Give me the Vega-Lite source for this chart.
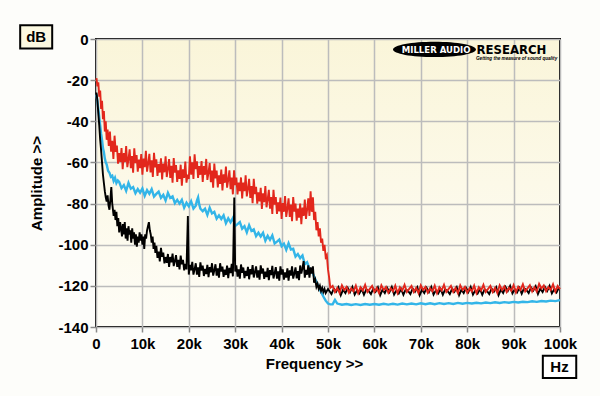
{
  "$schema": "https://vega.github.io/schema/vega-lite/v6.json",
  "width": 464,
  "height": 288,
  "autosize": {"type": "none"},
  "padding": {"left": 96, "top": 39, "right": 40, "bottom": 69},
  "background": "#fdfdfa",
  "config": {
    "view": {
      "stroke": "#000000",
      "strokeWidth": 2,
      "fill": {"gradient": "linear", "x1": 0, "y1": 0, "x2": 0, "y2": 1, "stops": [{"offset": 0, "color": "#faf5d9"}, {"offset": 1, "color": "#fefdf7"}]}
    },
    "axis": {
      "domain": false,
      "grid": true,
      "gridColor": "#bcbcbc",
      "gridWidth": 1.5,
      "tickColor": "#8a8a8a",
      "tickWidth": 1.5,
      "tickSize": 5,
      "labelFlush": false,
      "labelOverlap": false,
      "labelFont": "Liberation Sans",
      "labelFontWeight": "bold",
      "labelFontSize": 15,
      "labelColor": "#000000",
      "titleFont": "Liberation Sans",
      "titleFontWeight": "bold",
      "titleFontSize": 15,
      "titleColor": "#000000"
    }
  },
  "datasets": {
    "red": [
      {"f":0.1,"v":-19},{"f":0.3,"v":-23},{"f":0.5,"v":-21},{"f":0.7,"v":-28},{"f":0.9,"v":-25},{"f":1.1,"v":-34},{"f":1.3,"v":-30},{"f":1.5,"v":-39},{"f":1.7,"v":-35},{"f":1.9,"v":-45},{"f":2.1,"v":-40},{"f":2.3,"v":-49},{"f":2.5,"v":-44},{"f":2.75,"v":-52},
      {"f":3.0,"v":-45},{"f":3.25,"v":-54.8},{"f":3.5,"v":-49.5},{"f":3.75,"v":-58.3},{"f":4.0,"v":-47},{"f":4.25,"v":-54.9},{"f":4.5,"v":-51.8},{"f":4.75,"v":-60.6},{"f":5.0,"v":-55.5},{"f":5.25,"v":-59.8},{"f":5.5,"v":-53},{"f":5.75,"v":-63.3},{"f":6.0,"v":-55.5},{"f":6.25,"v":-59.8},{"f":6.5,"v":-52},{"f":6.75,"v":-62.3},{"f":7.0,"v":-58.5},
      {"f":7.25,"v":-53.6},{"f":7.5,"v":-62.8},{"f":7.75,"v":-56.9},{"f":8.0,"v":-65},{"f":8.25,"v":-53.1},{"f":8.5,"v":-60.3},{"f":8.75,"v":-56.4},{"f":9.0,"v":-64.5},{"f":9.25,"v":-58.6},{"f":9.5,"v":-62.8},{"f":9.75,"v":-55.9},{"f":10.0,"v":-66},{"f":10.25,"v":-58.1},{"f":10.5,"v":-62.3},{"f":10.75,"v":-54.4},{"f":11.0,"v":-64.5},{"f":11.25,"v":-60.6},
      {"f":11.5,"v":-55.8},{"f":11.75,"v":-64.9},{"f":12.0,"v":-59},{"f":12.25,"v":-67.1},{"f":12.5,"v":-55.3},{"f":12.75,"v":-62.4},{"f":13.0,"v":-58.5},{"f":13.25,"v":-66.6},{"f":13.5,"v":-60.8},{"f":13.75,"v":-64.9},{"f":14.0,"v":-58},{"f":14.25,"v":-68.3},{"f":14.5,"v":-60.5},{"f":14.75,"v":-64.8},{"f":15.0,"v":-57},{"f":15.25,"v":-67.1},{"f":15.5,"v":-63.3},
      {"f":15.75,"v":-58.4},{"f":16.0,"v":-67.5},{"f":16.25,"v":-61.6},{"f":16.5,"v":-69.8},{"f":16.75,"v":-57.9},{"f":17.0,"v":-65},{"f":17.25,"v":-61.3},{"f":17.5,"v":-69.5},{"f":17.75,"v":-63.8},{"f":18.0,"v":-68},{"f":18.25,"v":-61.1},{"f":18.5,"v":-71.3},{"f":18.75,"v":-63.4},{"f":19.0,"v":-67.5},{"f":19.25,"v":-59.6},{"f":19.5,"v":-69.8},{"f":19.75,"v":-65.9},{"f":20.0,"v":-68},
      {"f":20.25,"v":-57},{"f":20.5,"v":-66},{"f":20.75,"v":-60},{"f":21.0,"v":-68},{"f":21.25,"v":-56.1},{"f":21.5,"v":-63.3},{"f":21.75,"v":-59.4},{"f":22.0,"v":-67.5},{"f":22.25,"v":-61.8},{"f":22.5,"v":-66},{"f":22.75,"v":-59.3},{"f":23.0,"v":-69.5},{"f":23.25,"v":-61.8},{"f":23.5,"v":-66},{"f":23.75,"v":-58.3},{"f":24.0,"v":-68.5},{"f":24.25,"v":-64.9},
      {"f":24.5,"v":-60.3},{"f":24.75,"v":-69.6},{"f":25.0,"v":-64},{"f":25.25,"v":-72.3},{"f":25.5,"v":-60.5},{"f":25.75,"v":-67.8},{"f":26.0,"v":-64},{"f":26.25,"v":-72.1},{"f":26.5,"v":-66.3},{"f":26.75,"v":-70.4},{"f":27.0,"v":-63.5},{"f":27.25,"v":-73.6},{"f":27.5,"v":-65.8},{"f":27.75,"v":-69.9},{"f":28.0,"v":-62},{"f":28.25,"v":-72.3},{"f":28.5,"v":-68.5},
      {"f":28.75,"v":-63.8},{"f":29.0,"v":-73},{"f":29.25,"v":-67.3},{"f":29.5,"v":-75.5},{"f":29.75,"v":-63.8},{"f":30.0,"v":-71},{"f":30.25,"v":-67.3},{"f":30.5,"v":-75.5},{"f":30.75,"v":-69.8},{"f":31.0,"v":-74},{"f":31.25,"v":-67.3},{"f":31.5,"v":-77.5},{"f":31.75,"v":-69.8},{"f":32.0,"v":-74},{"f":32.25,"v":-66.3},{"f":32.5,"v":-76.5},{"f":32.75,"v":-72.8},
      {"f":33.0,"v":-68},{"f":33.25,"v":-77.3},{"f":33.5,"v":-71.5},{"f":33.75,"v":-79.8},{"f":34.0,"v":-68},{"f":34.25,"v":-75.4},{"f":34.5,"v":-71.8},{"f":34.75,"v":-80.1},{"f":35.0,"v":-74.5},{"f":35.25,"v":-78.9},{"f":35.5,"v":-72.3},{"f":35.75,"v":-82.6},{"f":36.0,"v":-75},{"f":36.25,"v":-79.3},{"f":36.5,"v":-71.5},{"f":36.75,"v":-81.8},{"f":37.0,"v":-78},
      {"f":37.25,"v":-73.3},{"f":37.5,"v":-82.5},{"f":37.75,"v":-76.8},{"f":38.0,"v":-85},{"f":38.25,"v":-73.3},{"f":38.5,"v":-80.5},{"f":38.75,"v":-76.8},{"f":39.0,"v":-85},{"f":39.25,"v":-79.4},{"f":39.5,"v":-83.8},{"f":39.75,"v":-77.1},{"f":40.0,"v":-87.5},{"f":40.25,"v":-79.8},{"f":40.5,"v":-84},{"f":40.75,"v":-76.3},{"f":41.0,"v":-86.5},{"f":41.25,"v":-82.5},
      {"f":41.5,"v":-77.5},{"f":41.75,"v":-86.5},{"f":42.0,"v":-80.5},{"f":42.25,"v":-88.6},{"f":42.5,"v":-76.8},{"f":42.75,"v":-83.9},{"f":43.0,"v":-80},{"f":43.25,"v":-88.3},{"f":43.5,"v":-82.5},{"f":43.75,"v":-86.8},{"f":44.0,"v":-80},{"f":44.25,"v":-90},{"f":44.5,"v":-82},{"f":44.75,"v":-86},{"f":45.0,"v":-78},{"f":45.25,"v":-87.5},{"f":45.5,"v":-83},
      {"f":45.75,"v":-77.5},{"f":46.0,"v":-86},{"f":46.25,"v":-74},{"f":46.5,"v":-84},{"f":46.75,"v":-77},{"f":47.0,"v":-88},{"f":47.25,"v":-84},{"f":47.5,"v":-93},{"f":47.75,"v":-89},{"f":48.0,"v":-96},{"f":48.25,"v":-92},{"f":48.5,"v":-99},{"f":48.75,"v":-97},{"f":49.0,"v":-103},{"f":49.25,"v":-100},{"f":49.5,"v":-106},{"f":49.75,"v":-105},{"f":50.0,"v":-112},{"f":50.25,"v":-116},{"f":50.5,"v":-121},
      {"f":51.0,"v":-120},{"f":51.5,"v":-123},{"f":52,"v":-121},{"f":52.5,"v":-123.5},{"f":53,"v":-119.7},{"f":53.5,"v":-122},{"f":54,"v":-120.5},{"f":54.5,"v":-123.3},{"f":55,"v":-121.2},{"f":55.5,"v":-122.7},{"f":56,"v":-119.9},{"f":56.5,"v":-123.5},{"f":57,"v":-120.7},{"f":57.5,"v":-122.3},{"f":58,"v":-119.5},{"f":58.5,"v":-123},{"f":59,"v":-121.5},
      {"f":59.5,"v":-120},{"f":60,"v":-123},{"f":60.5,"v":-121},{"f":61,"v":-123.5},{"f":61.5,"v":-119.7},{"f":62,"v":-122},{"f":62.5,"v":-120.5},{"f":63,"v":-123.3},{"f":63.5,"v":-121.2},{"f":64,"v":-122.7},{"f":64.5,"v":-119.9},{"f":65,"v":-123.5},{"f":65.5,"v":-120.7},{"f":66,"v":-122.3},{"f":66.5,"v":-119.5},{"f":67,"v":-123},{"f":67.5,"v":-121.5},
      {"f":68,"v":-120},{"f":68.5,"v":-123},{"f":69,"v":-121},{"f":69.5,"v":-123.5},{"f":70,"v":-119.7},{"f":70.5,"v":-122},{"f":71,"v":-120.5},{"f":71.5,"v":-123.3},{"f":72,"v":-121.2},{"f":72.5,"v":-122.7},{"f":73,"v":-119.9},{"f":73.5,"v":-123.5},{"f":74,"v":-120.7},{"f":74.5,"v":-122.3},{"f":75,"v":-119.5},{"f":75.5,"v":-123},{"f":76,"v":-121.5},
      {"f":76.5,"v":-120},{"f":77,"v":-123},{"f":77.5,"v":-121},{"f":78,"v":-123.5},{"f":78.5,"v":-119.7},{"f":79,"v":-122},{"f":79.5,"v":-120.5},{"f":80,"v":-123.3},{"f":80.5,"v":-121.2},{"f":81,"v":-122.7},{"f":81.5,"v":-119.9},{"f":82,"v":-123.5},{"f":82.5,"v":-120.7},{"f":83,"v":-122.3},{"f":83.5,"v":-119.5},{"f":84,"v":-123},{"f":84.5,"v":-121.5},
      {"f":85,"v":-120},{"f":85.5,"v":-123},{"f":86,"v":-121},{"f":86.5,"v":-123.5},{"f":87,"v":-119.7},{"f":87.5,"v":-122},{"f":88,"v":-120.2},{"f":88.5,"v":-123},{"f":89,"v":-120.9},{"f":89.5,"v":-122.4},{"f":90,"v":-119.6},{"f":90.5,"v":-123.2},{"f":91,"v":-120.4},{"f":91.5,"v":-122},{"f":92,"v":-119.2},{"f":92.5,"v":-122.7},{"f":93,"v":-121.2},
      {"f":93.5,"v":-119.7},{"f":94,"v":-122.7},{"f":94.5,"v":-120.7},{"f":95,"v":-122.8},{"f":95.5,"v":-119},{"f":96,"v":-121.3},{"f":96.5,"v":-119.8},{"f":97,"v":-122.6},{"f":97.5,"v":-120.5},{"f":98,"v":-122},{"f":98.5,"v":-119.2},{"f":99,"v":-122.8},{"f":99.5,"v":-120},{"f":100,"v":-121.6}
    ],
    "blue": [
      {"f":0.1,"v":-27},{"f":0.3,"v":-30},{"f":0.5,"v":-34},{"f":0.7,"v":-38},{"f":0.9,"v":-42},{"f":1.1,"v":-46},{"f":1.3,"v":-49},{"f":1.5,"v":-53},{"f":1.7,"v":-55},{"f":1.9,"v":-58},{"f":2.1,"v":-60},{"f":2.3,"v":-61},{"f":2.6,"v":-64},{"f":2.9,"v":-65},{"f":3.2,"v":-67},{"f":3.5,"v":-66.5},{"f":3.8,"v":-69},{"f":4.1,"v":-67.5},{"f":4.4,"v":-70},{"f":4.7,"v":-68.8},
      {"f":5.0,"v":-69.5},{"f":5.5,"v":-72.5},{"f":6.0,"v":-71},{"f":6.5,"v":-73.8},{"f":7.0,"v":-70},{"f":7.5,"v":-72.8},{"f":8.0,"v":-72},{"f":8.5,"v":-75},{"f":9.0,"v":-73},{"f":9.5,"v":-74.7},{"f":10.0,"v":-72.7},{"f":10.5,"v":-76.2},{"f":11.0,"v":-73.5},{"f":11.5,"v":-75.3},{"f":12.0,"v":-73},{"f":12.5,"v":-76.6},{"f":13.0,"v":-75.3},
      {"f":13.5,"v":-74.2},{"f":14.0,"v":-77.2},{"f":14.5,"v":-75.8},{"f":15.0,"v":-78.5},{"f":15.5,"v":-74.8},{"f":16.0,"v":-77.3},{"f":16.5,"v":-76.5},{"f":17.0,"v":-79.8},{"f":17.5,"v":-78.2},{"f":18.0,"v":-80},{"f":18.5,"v":-78.2},{"f":19.0,"v":-82},{"f":19.5,"v":-79.6},{"f":20.0,"v":-81.3},{"f":20.5,"v":-78.9},{"f":21.0,"v":-82.4},{"f":21.5,"v":-81},
      {"f":21.75,"v":-78.5},{"f":22.0,"v":-77},{"f":22.25,"v":-80.5},{"f":22.5,"v":-82.5},{"f":23.0,"v":-83.7},{"f":23.5,"v":-82.5},{"f":24.0,"v":-85.5},{"f":24.5,"v":-82},{"f":25.0,"v":-84.8},{"f":25.5,"v":-84},{"f":26.0,"v":-87.3},{"f":26.5,"v":-85.7},{"f":27.0,"v":-87.5},{"f":27.5,"v":-85.7},{"f":28.0,"v":-89.5},{"f":28.5,"v":-87.2},{"f":29.0,"v":-89.1},{"f":29.5,"v":-87},{"f":30.0,"v":-90.9},
      {"f":30.5,"v":-90},{"f":31.0,"v":-89},{"f":31.5,"v":-92.2},{"f":32.0,"v":-91},{"f":32.5,"v":-94},{"f":33.0,"v":-90.5},{"f":33.5,"v":-93.3},{"f":34.0,"v":-92.5},{"f":34.5,"v":-95.8},{"f":35.0,"v":-94.2},{"f":35.5,"v":-96},{"f":36.0,"v":-94.2},{"f":36.5,"v":-98},{"f":37.0,"v":-95.7},{"f":37.5,"v":-97.6},{"f":38.0,"v":-95.5},{"f":38.5,"v":-99.4},{"f":39.0,"v":-98.5},
      {"f":39.5,"v":-97.5},{"f":40.0,"v":-100.7},{"f":40.5,"v":-99.5},{"f":41.0,"v":-102.5},{"f":41.5,"v":-99.3},{"f":42.0,"v":-102.3},{"f":42.5,"v":-102},{"f":43.0,"v":-105.8},{"f":43.5,"v":-104.5},{"f":44.0,"v":-106.5},{"f":44.5,"v":-105.2},{"f":45.0,"v":-109.5},{"f":45.5,"v":-108.5},{"f":46.0,"v":-111.6},{"f":46.5,"v":-112.5},{"f":47.0,"v":-115.5},{"f":47.5,"v":-118},{"f":48.0,"v":-120.5},{"f":48.5,"v":-123},{"f":49.0,"v":-125.2},{"f":49.5,"v":-127.2},{"f":50.0,"v":-128.6},{"f":50.5,"v":-129},{"f":51.0,"v":-129},{"f":51.5,"v":-126.8},{"f":52.0,"v":-128.6},
      {"f":53,"v":-129.2},{"f":54,"v":-128.8},{"f":55,"v":-129.3},{"f":56,"v":-128.9},{"f":57,"v":-129.3},{"f":58,"v":-128.8},{"f":59,"v":-129.2},{"f":60,"v":-128.8},{"f":61,"v":-129.2},{"f":62,"v":-128.7},{"f":63,"v":-129.1},{"f":64,"v":-128.7},{"f":65,"v":-129.1},{"f":66,"v":-128.6},{"f":67,"v":-129},{"f":68,"v":-128.6},{"f":69,"v":-129},{"f":70,"v":-128.5},{"f":71,"v":-128.9},{"f":72,"v":-128.5},{"f":73,"v":-128.9},{"f":74,"v":-128.4},{"f":75,"v":-128.8},{"f":76,"v":-128.4},{"f":77,"v":-128.8},{"f":78,"v":-128.3},{"f":79,"v":-128.7},{"f":80,"v":-128.3},{"f":81,"v":-128.6},{"f":82,"v":-128.2},{"f":83,"v":-128.5},{"f":84,"v":-128.1},{"f":85,"v":-128.4},{"f":86,"v":-128},{"f":87,"v":-128.3},{"f":88,"v":-127.9},{"f":89,"v":-128.2},{"f":90,"v":-127.8},{"f":91,"v":-128.1},{"f":92,"v":-127.7},{"f":93,"v":-127.9},{"f":94,"v":-127.5},{"f":95,"v":-127.8},{"f":96,"v":-127.4},{"f":97,"v":-127.6},{"f":98,"v":-127.2},{"f":99,"v":-127.4},{"f":100,"v":-126.9}
    ],
    "black": [
      {"f":0.1,"v":-26},{"f":0.3,"v":-30},{"f":0.5,"v":-36},{"f":0.7,"v":-42},{"f":0.9,"v":-49},{"f":1.1,"v":-54},{"f":1.3,"v":-60},{"f":1.5,"v":-66},{"f":1.7,"v":-70},{"f":1.9,"v":-74},{"f":2.1,"v":-77},{"f":2.3,"v":-79},{"f":2.5,"v":-76},{"f":2.7,"v":-81},{"f":2.9,"v":-83},{"f":3.1,"v":-78},{"f":3.3,"v":-72},{"f":3.5,"v":-80},{"f":3.8,"v":-86},
      {"f":4.0,"v":-83},{"f":4.2,"v":-88},{"f":4.4,"v":-84},{"f":4.6,"v":-91},{"f":4.8,"v":-87},{"f":5.0,"v":-94},{"f":5.2,"v":-89},{"f":5.4,"v":-92},{"f":5.6,"v":-96},{"f":5.8,"v":-90},{"f":6.0,"v":-95},{"f":6.2,"v":-89},{"f":6.4,"v":-97},{"f":6.6,"v":-92},{"f":6.8,"v":-98},{"f":7.0,"v":-91},{"f":7.2,"v":-95},{"f":7.4,"v":-93},{"f":7.6,"v":-99},{"f":7.8,"v":-92},{"f":8.0,"v":-97},{"f":8.2,"v":-94},{"f":8.4,"v":-100},{"f":8.6,"v":-95},{"f":8.8,"v":-101},{"f":9.0,"v":-96},{"f":9.2,"v":-99},{"f":9.4,"v":-94},{"f":9.6,"v":-98},{"f":9.8,"v":-95},{"f":10.0,"v":-100},{"f":10.2,"v":-96},{"f":10.4,"v":-102},{"f":10.6,"v":-95},{"f":10.8,"v":-97},{"f":11.0,"v":-93},{"f":11.2,"v":-91},{"f":11.4,"v":-89},{"f":11.6,"v":-93},{"f":11.8,"v":-95},{"f":12.0,"v":-99},{"f":12.2,"v":-96},{"f":12.4,"v":-102},{"f":12.6,"v":-99},{"f":12.8,"v":-104},
      {"f":13.0,"v":-100.5},{"f":13.25,"v":-106.4},{"f":13.5,"v":-103.3},{"f":13.75,"v":-108.1},{"f":14.0,"v":-101.5},{"f":14.25,"v":-105.9},{"f":14.5,"v":-103.8},{"f":14.75,"v":-109.1},{"f":15.0,"v":-106},{"f":15.25,"v":-108.8},{"f":15.5,"v":-104.5},{"f":15.75,"v":-110.8},{"f":16.0,"v":-106},{"f":16.25,"v":-108.6},{"f":16.5,"v":-104.3},{"f":16.75,"v":-110.4},{"f":17.0,"v":-108},
      {"f":17.25,"v":-105.1},{"f":17.5,"v":-110.8},{"f":17.75,"v":-107.4},{"f":18.0,"v":-112},{"f":18.25,"v":-105.3},{"f":18.5,"v":-109.5},{"f":18.75,"v":-107.3},{"f":19.0,"v":-112.5},{"f":19.25,"v":-109.3},{"f":19.5,"v":-112},{"f":19.8,"v":-86},{"f":20.0,"v":-114.5},{"f":20.25,"v":-109.8},{"f":20.5,"v":-112.5},{"f":20.75,"v":-108.3},{"f":21.0,"v":-114.5},{"f":21.25,"v":-112},
      {"f":21.5,"v":-109},{"f":21.75,"v":-114.5},{"f":22.0,"v":-111},{"f":22.25,"v":-115.6},{"f":22.5,"v":-108.6},{"f":22.75,"v":-112.6},{"f":23.0,"v":-110.2},{"f":23.25,"v":-115.2},{"f":23.5,"v":-111.7},{"f":23.75,"v":-114.3},{"f":24.0,"v":-109.8},{"f":24.25,"v":-115.8},{"f":24.5,"v":-110.9},{"f":24.75,"v":-113.4},{"f":25.0,"v":-109},{"f":25.25,"v":-115},{"f":25.5,"v":-112.5},
      {"f":25.75,"v":-109.5},{"f":26.0,"v":-115},{"f":26.25,"v":-111.5},{"f":26.5,"v":-116},{"f":26.75,"v":-109},{"f":27.0,"v":-113},{"f":27.25,"v":-110.6},{"f":27.5,"v":-115.6},{"f":27.75,"v":-112.1},{"f":28.0,"v":-114.7},{"f":28.25,"v":-110.2},{"f":28.5,"v":-116.2},{"f":28.75,"v":-111.3},{"f":29.0,"v":-113.8},{"f":29.25,"v":-109.3},{"f":29.5,"v":-115.4},{"f":29.8,"v":-77},
      {"f":30.0,"v":-113},{"f":30.25,"v":-110},{"f":30.5,"v":-115.5},{"f":30.75,"v":-112},{"f":31.0,"v":-116.5},{"f":31.25,"v":-109.6},{"f":31.5,"v":-113.6},{"f":31.75,"v":-111.1},{"f":32.0,"v":-116.2},{"f":32.25,"v":-112.7},{"f":32.5,"v":-115.2},{"f":32.75,"v":-110.8},{"f":33.0,"v":-116.8},{"f":33.25,"v":-111.8},{"f":33.5,"v":-114.4},{"f":33.75,"v":-109.9},{"f":34.0,"v":-115.9},{"f":34.25,"v":-113.4},
      {"f":34.5,"v":-110.5},{"f":34.75,"v":-116},{"f":35.0,"v":-112.5},{"f":35.25,"v":-117},{"f":35.5,"v":-110},{"f":35.75,"v":-114},{"f":36.0,"v":-111.6},{"f":36.25,"v":-116.6},{"f":36.5,"v":-113.1},{"f":36.75,"v":-115.7},{"f":37.0,"v":-111.2},{"f":37.25,"v":-117.2},{"f":37.5,"v":-112.3},{"f":37.75,"v":-114.8},{"f":38.0,"v":-110.3},{"f":38.25,"v":-116.4},{"f":38.5,"v":-113.9},
      {"f":38.75,"v":-110.9},{"f":39.0,"v":-116.5},{"f":39.25,"v":-113},{"f":39.5,"v":-117.5},{"f":39.75,"v":-110.5},{"f":40.0,"v":-114.5},{"f":40.25,"v":-112},{"f":40.5,"v":-117},{"f":40.75,"v":-113.5},{"f":41.0,"v":-116},{"f":41.25,"v":-111.5},{"f":41.5,"v":-117.5},{"f":41.75,"v":-112.5},{"f":42.0,"v":-115},{"f":42.25,"v":-110.5},{"f":42.5,"v":-116.5},{"f":42.75,"v":-114},
      {"f":43.0,"v":-111},{"f":43.25,"v":-116.4},{"f":43.5,"v":-112.8},{"f":43.75,"v":-117.2},{"f":44.0,"v":-110.1},{"f":44.25,"v":-114},{"f":44.5,"v":-111.4},{"f":44.75,"v":-108},{"f":45.0,"v":-116},{"f":45.25,"v":-112.3},{"f":45.5,"v":-114.6},{"f":45.75,"v":-110},{"f":46.0,"v":-116},{"f":46.25,"v":-111},{"f":46.5,"v":-114},{"f":46.75,"v":-110.5},{"f":47.0,"v":-118.5},
      {"f":47.25,"v":-117},{"f":47.5,"v":-120.5},{"f":47.75,"v":-119},{"f":48.0,"v":-121.5},{"f":48.25,"v":-120},{"f":48.5,"v":-122.5},{"f":48.75,"v":-121},{"f":49.0,"v":-123},{"f":49.25,"v":-121.5},{"f":49.5,"v":-123.5},{"f":50.0,"v":-121.5},
      {"f":50.75,"v":-124},{"f":51.25,"v":-121.3},{"f":51.75,"v":-122.8},{"f":52.25,"v":-120.7},{"f":52.75,"v":-124.5},{"f":53.25,"v":-121.9},{"f":53.75,"v":-123.5},{"f":54.25,"v":-121},{"f":54.75,"v":-123},{"f":55.25,"v":-120.5},{"f":55.75,"v":-124.2},{"f":56.25,"v":-122.2},{"f":56.75,"v":-123.7},{"f":57.25,"v":-121.5},{"f":57.75,"v":-124.3},{"f":58.25,"v":-121.7},{"f":58.75,"v":-122.5},
      {"f":59.25,"v":-124},{"f":59.75,"v":-121.3},{"f":60.25,"v":-122.8},{"f":60.75,"v":-120.7},{"f":61.25,"v":-124.5},{"f":61.75,"v":-121.9},{"f":62.25,"v":-123.5},{"f":62.75,"v":-121},{"f":63.25,"v":-123},{"f":63.75,"v":-120.5},{"f":64.25,"v":-124.2},{"f":64.75,"v":-122.2},{"f":65.25,"v":-123.7},{"f":65.75,"v":-121.5},{"f":66.25,"v":-124.3},{"f":66.75,"v":-121.7},{"f":67.25,"v":-122.5},
      {"f":67.75,"v":-124},{"f":68.25,"v":-121.3},{"f":68.75,"v":-122.8},{"f":69.25,"v":-120.7},{"f":69.75,"v":-124.5},{"f":70.25,"v":-121.9},{"f":70.75,"v":-123.5},{"f":71.25,"v":-121},{"f":71.75,"v":-123},{"f":72.25,"v":-120.5},{"f":72.75,"v":-124.2},{"f":73.25,"v":-122.2},{"f":73.75,"v":-123.7},{"f":74.25,"v":-121.5},{"f":74.75,"v":-124.3},{"f":75.25,"v":-121.7},{"f":75.75,"v":-122.5},
      {"f":76.25,"v":-124},{"f":76.75,"v":-121.3},{"f":77.25,"v":-122.8},{"f":77.75,"v":-120.7},{"f":78.25,"v":-124.5},{"f":78.75,"v":-121.9},{"f":79.25,"v":-123.5},{"f":79.75,"v":-121},{"f":80.25,"v":-123},{"f":80.75,"v":-120.5},{"f":81.25,"v":-124.2},{"f":81.75,"v":-122.2},{"f":82.25,"v":-123.7},{"f":82.75,"v":-121.5},{"f":83.25,"v":-124.3},{"f":83.75,"v":-121.7},{"f":84.25,"v":-122.5},
      {"f":84.75,"v":-124},{"f":85.25,"v":-121.3},{"f":85.75,"v":-122.8},{"f":86.25,"v":-120.7},{"f":86.75,"v":-124.5},{"f":87.25,"v":-121.9},{"f":87.75,"v":-123.5},{"f":88.25,"v":-120.5},{"f":88.75,"v":-122.5},{"f":89.25,"v":-120},{"f":89.75,"v":-123.7},{"f":90.25,"v":-121.7},{"f":90.75,"v":-123.2},{"f":91.25,"v":-121},{"f":91.75,"v":-123.8},{"f":92.25,"v":-121.2},{"f":92.75,"v":-122},
      {"f":93.25,"v":-123.5},{"f":93.75,"v":-120.8},{"f":94.25,"v":-122.3},{"f":94.75,"v":-120.2},{"f":95.25,"v":-124},{"f":95.75,"v":-121.4},{"f":96.25,"v":-123},{"f":96.75,"v":-120.5},{"f":97.25,"v":-122.5},{"f":97.75,"v":-120},{"f":98.25,"v":-123.7},{"f":98.75,"v":-121.7},{"f":99.25,"v":-123.2},{"f":99.75,"v":-121}
    ]
  },
  "layer": [
    {
      "data": {"name": "blue"},
      "mark": {"type": "line", "color": "#33b5e8", "strokeWidth": 2.4},
      "encoding": {
        "x": {"field": "f", "type": "quantitative",
          "scale": {"domain": [0, 100], "nice": false},
          "axis": {"values": [0,10,20,30,40,50,60,70,80,90,100], "labelExpr": "datum.value == 0 ? '0' : datum.value + 'k'", "labelPadding": 4, "title": "Frequency >>", "titlePadding": 5, "titleX": 218},
          "title": "Frequency >>"},
        "y": {"field": "v", "type": "quantitative",
          "scale": {"domain": [-140, 0], "nice": false},
          "axis": {"values": [-140,-120,-100,-80,-60,-40,-20,0], "labelExpr": "datum.value < 0 ? '-' + abs(datum.value) : '0'", "labelPadding": 2, "tickSize": 6, "title": "Amplitude >>", "titlePadding": 13},
          "title": "Amplitude >>"}
      }
    },
    {
      "data": {"name": "black"},
      "mark": {"type": "line", "color": "#000000", "strokeWidth": 1.9},
      "encoding": {
        "x": {"field": "f", "type": "quantitative", "title": "Frequency >>"},
        "y": {"field": "v", "type": "quantitative", "title": "Amplitude >>"}
      }
    },
    {
      "data": {"name": "red"},
      "mark": {"type": "line", "color": "#e2271c", "strokeWidth": 1.9},
      "encoding": {
        "x": {"field": "f", "type": "quantitative", "title": "Frequency >>"},
        "y": {"field": "v", "type": "quantitative", "title": "Amplitude >>"}
      }
    },
    {
      "data": {"values": [{}]},
      "mark": {"type": "point", "shape": "M-1,0C-1,-0.1 -0.552,-0.185 0,-0.185C0.552,-0.185 1,-0.1 1,0C1,0.1 0.552,0.185 0,0.185C-0.552,0.185 -1,0.1 -1,0Z", "size": 6889, "filled": true, "color": "#000000", "opacity": 1},
      "encoding": {
        "x": {"datum": 72.95, "type": "quantitative", "title": "Frequency >>"},
        "y": {"datum": -5.05, "type": "quantitative", "title": "Amplitude >>"}
      }
    },
    {
      "data": {"values": [{}]},
      "mark": {"type": "text", "text": "MILLER AUDIO", "font": "DejaVu Sans Condensed", "fontWeight": "bold", "fontSize": 9.5, "color": "#ffffff", "align": "center", "baseline": "middle"},
      "encoding": {
        "x": {"datum": 73.3, "type": "quantitative", "title": "Frequency >>"},
        "y": {"datum": -5.2, "type": "quantitative", "title": "Amplitude >>"}
      }
    },
    {
      "data": {"values": [{}]},
      "mark": {"type": "text", "text": "RESEARCH", "font": "DejaVu Sans Condensed", "fontWeight": "bold", "fontSize": 13, "color": "#000000", "align": "left", "baseline": "middle"},
      "encoding": {
        "x": {"datum": 82.0, "type": "quantitative", "title": "Frequency >>"},
        "y": {"datum": -5.4, "type": "quantitative", "title": "Amplitude >>"}
      }
    },
    {
      "data": {"values": [{}]},
      "mark": {"type": "text", "text": "Getting the measure of sound quality", "font": "Liberation Sans", "fontWeight": "bold", "fontStyle": "italic", "fontSize": 4.6, "color": "#000000", "align": "right", "baseline": "middle"},
      "encoding": {
        "x": {"datum": 99.4, "type": "quantitative", "title": "Frequency >>"},
        "y": {"datum": -9.8, "type": "quantitative", "title": "Amplitude >>"}
      }
    },
    {
      "data": {"values": [{}]},
      "mark": {"type": "rect", "fill": "#fbf8e0", "stroke": "#000000", "strokeWidth": 2},
      "encoding": {
        "x": {"datum": -16.34, "type": "quantitative", "title": "Frequency >>"},
        "x2": {"datum": -9.44},
        "y": {"datum": 6.7, "type": "quantitative", "title": "Amplitude >>"},
        "y2": {"datum": -4.6}
      }
    },
    {
      "data": {"values": [{}]},
      "mark": {"type": "text", "text": "dB", "font": "Liberation Sans", "fontWeight": "bold", "fontSize": 15, "color": "#000000", "align": "center", "baseline": "middle"},
      "encoding": {
        "x": {"datum": -12.9, "type": "quantitative", "title": "Frequency >>"},
        "y": {"datum": 1.0, "type": "quantitative", "title": "Amplitude >>"}
      }
    },
    {
      "data": {"values": [{}]},
      "mark": {"type": "rect", "fill": "#ffffff", "stroke": "#000000", "strokeWidth": 2},
      "encoding": {
        "x": {"datum": 96.3, "type": "quantitative", "title": "Frequency >>"},
        "x2": {"datum": 103.5},
        "y": {"datum": -154, "type": "quantitative", "title": "Amplitude >>"},
        "y2": {"datum": -164.8}
      }
    },
    {
      "data": {"values": [{}]},
      "mark": {"type": "text", "text": "Hz", "font": "Liberation Sans", "fontWeight": "bold", "fontSize": 15, "color": "#000000", "align": "center", "baseline": "middle"},
      "encoding": {
        "x": {"datum": 99.9, "type": "quantitative", "title": "Frequency >>"},
        "y": {"datum": -159.4, "type": "quantitative", "title": "Amplitude >>"}
      }
    }
  ]
}
